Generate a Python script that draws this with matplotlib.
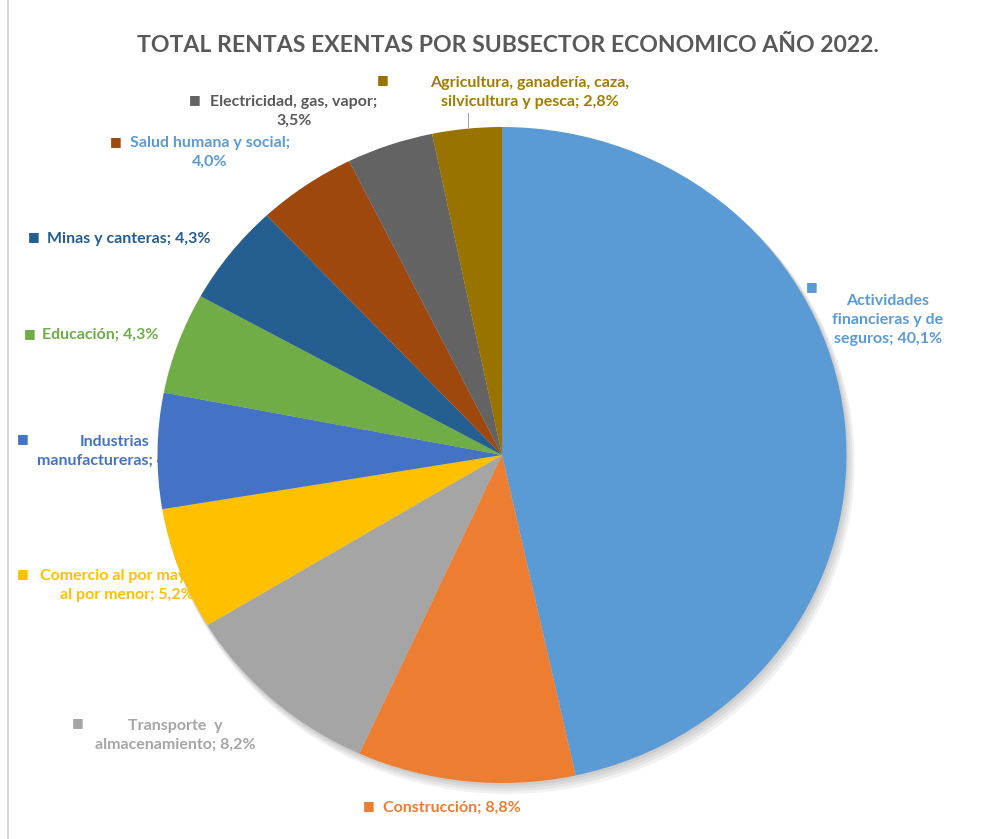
import matplotlib.pyplot as plt
from matplotlib.patches import Ellipse

# datos del grafico (porcentajes tal como aparecen en las etiquetas)
sectores = ['Actividades financieras y de seguros', 'Construcción', 'Transporte y almacenamiento',
            'Comercio al por mayor y al por menor', 'Industrias manufactureras', 'Educación',
            'Minas y canteras', 'Salud humana y social', 'Electricidad, gas, vapor',
            'Agricultura, ganadería, caza, silvicultura y pesca']
valores = [40.1, 8.8, 8.2, 5.2, 4.9, 4.3, 4.3, 4.0, 3.5, 2.8]
etiquetas = ['Actividades\nfinancieras y de\nseguros; 40,1%',
             'Construcción; 8,8%',
             'Transporte  y\nalmacenamiento; 8,2%',
             'Comercio al por mayor y\nal por menor; 5,2%',
             'Industrias\nmanufactureras; 4,9%',
             'Educación; 4,3%',
             'Minas y canteras; 4,3%',
             'Salud humana y social;\n4,0%',
             'Electricidad, gas, vapor;\n3,5%',
             'Agricultura, ganadería, caza,\nsilvicultura y pesca; 2,8%']
colores = ['#5B9BD5', '#ED7D31', '#A5A5A5', '#FFC000', '#4472C4',
           '#70AD47', '#255E91', '#9E480E', '#636363', '#997300']
colores_texto = ['#5B9BD5', '#ED7D31', '#A5A5A5', '#FFC000', '#4472C4',
                 '#70AD47', '#255E91', '#5B9BD5', '#595959', '#A07C00']

W, H = 983, 839
plt.rcParams['font.family'] = ['Lato', 'DejaVu Sans']

fig = plt.figure(figsize=(W / 100, H / 100), dpi=100)
ax = fig.add_axes([0, 0, 1, 1])

# centro y radios de la torta en pixeles (ligeramente eliptica)
cx, cy, rx, ry = 502, 455, 344.5, 328


def px(x, y):
    return x / W, 1 - y / H


# sombra suave
for i in range(4):
    off = 0.004 * (i + 1)
    ax.add_patch(Ellipse((off, -off * 1.6), 2 + off, 2 + off, color='black',
                         alpha=0.05, lw=0, zorder=0.2))

ax.pie(valores, colors=colores, startangle=90, counterclock=False,
       radius=1, wedgeprops=dict(linewidth=0))
ax.set_aspect('auto')
ax.set_xlim(-cx / rx, (W - cx) / rx)
ax.set_ylim(-(H - cy) / ry, cy / ry)
ax.axis('off')

# posiciones de las etiquetas: (marcador x, marcador y, centro texto x, primera linea y)
pos = [(812, 287, 888, 300),
       (369, 806, 452, 807),
       (78, 723, 175, 725),
       (23, 574, 127, 575),
       (23, 439, 115, 441),
       (30, 334, 100, 334),
       (34, 237, 129, 238),
       (116, 142, 210, 142),
       (195, 100, 294, 101),
       (383, 80, 530, 82)]

for lab, col, ctxt, (mx, my, tx, ty) in zip(etiquetas, colores, colores_texto, pos):
    ax.text(*px(mx, my), '■', transform=fig.transFigure, ha='center', va='center',
            fontsize=9, color=col, family='DejaVu Sans', zorder=0.5)
    ax.text(*px(tx, ty - 6), lab, transform=fig.transFigure, ha='center', va='top',
            fontsize=11.5, fontweight='bold', color=ctxt, linespacing=1.45,
            zorder=0.5)

# linea guia de agricultura
ax.plot([px(468, 113)[0], px(468, 127)[0]], [px(468, 113)[1], px(468, 127)[1]],
        transform=fig.transFigure, color='#A6A6A6', lw=0.8, zorder=0.5)

# borde izquierdo del area del grafico
fig.add_artist(plt.Line2D([8 / W, 8 / W], [0, 1], color='#D9D9D9', lw=1.5))

fig.text(*px(508, 45), 'TOTAL RENTAS EXENTAS POR SUBSECTOR ECONOMICO AÑO 2022.',
         ha='center', va='center', fontsize=16.6, fontweight='bold', color='#595959')

fig.savefig('out.png', dpi=100)
